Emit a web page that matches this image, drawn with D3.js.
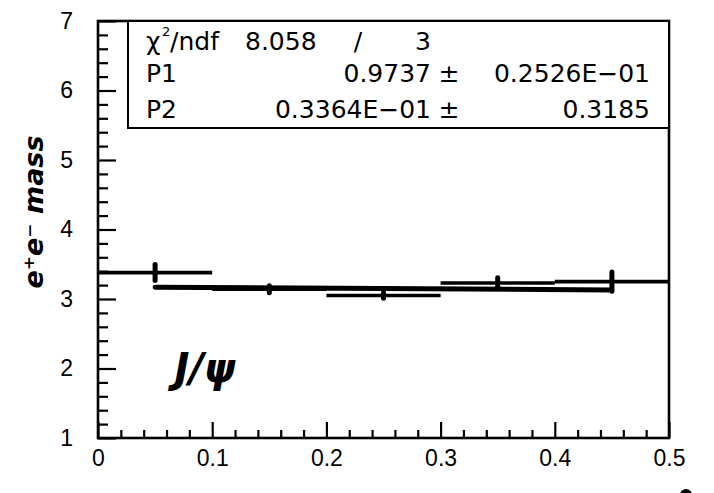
<!DOCTYPE html>
<html>
<head>
<meta charset="utf-8">
<script src="https://cdn.jsdelivr.net/npm/d3@7"></script>
<style>
  html, body { margin: 0; padding: 0; background: #fff; }
  svg { display: block; }
</style>
</head>
<body>
<svg id="chart" width="714" height="493"></svg>
<script>
// Measured e+e- invariant mass per bin, with a straight-line fit
const binCenters  = [0.05, 0.15, 0.25, 0.35, 0.45];
const binHalf     = [0.05, 0.05, 0.05, 0.05, 0.05];
const massValues  = [3.38, 3.14, 3.05, 3.23, 3.25];
const massErrors  = [0.115, 0.05, 0.04, 0.075, 0.14];

// Fit line drawn over the fit range
const fitX = [0.05, 0.45];
const fitY = [3.17, 3.13];

// Axis ticks
const xMajorTicks = [0, 0.1, 0.2, 0.3, 0.4, 0.5];
const xTickLabels = ["0", "0.1", "0.2", "0.3", "0.4", "0.5"];
const yMajorTicks = [1, 2, 3, 4, 5, 6, 7];
const yTickLabels = ["1", "2", "3", "4", "5", "6", "7"];

// Fit statistics
const chi2Value = "8.058";
const ndfValue = "3";
const parNames = ["P1", "P2"];
const parValues = ["0.9737", "0.3364E\u221201"];
const parErrors = ["0.2526E\u221201", "0.3185"];

const svg = d3.select("#chart");
const L = 98, R = 669, T = 21, B = 438;

const x = d3.scaleLinear().domain([0, 0.5]).range([L, R]);
const y = d3.scaleLinear().domain([1, 7]).range([B, T]);

const ink = "#000";

// Minor ticks
const xMinor = d3.range(0, 0.5001, 0.02).filter(v => Math.abs(v * 10 - Math.round(v * 10)) > 1e-6);
const yMinor = d3.range(1, 7.0001, 0.2).filter(v => Math.abs(v - Math.round(v)) > 1e-6);

const xMinorAxis = d3.axisBottom(x).tickValues(xMinor).tickSizeInner(-8).tickSizeOuter(0).tickFormat("");
const yMinorAxis = d3.axisLeft(y).tickValues(yMinor).tickSizeInner(-10).tickSizeOuter(0).tickFormat("");

const xAxis = d3.axisBottom(x).tickValues(xMajorTicks).tickSizeInner(-16).tickSizeOuter(0)
  .tickPadding(12).tickFormat((d, i) => xTickLabels[i]);
const yAxis = d3.axisLeft(y).tickValues(yMajorTicks).tickSizeInner(-18).tickSizeOuter(0)
  .tickPadding(25).tickFormat((d, i) => yTickLabels[i]);

function styleAxis(g) {
  g.select(".domain").remove();
  g.selectAll("line").attr("stroke", ink).attr("stroke-width", 2.2);
  g.selectAll("text")
    .attr("fill", ink)
    .style("font-family", "'Liberation Sans', Arial, sans-serif")
    .style("font-size", "23px");
}

svg.append("g").attr("transform", `translate(0,${B})`).call(xMinorAxis).call(styleAxis);
svg.append("g").attr("transform", `translate(${L},0)`).call(yMinorAxis).call(styleAxis);
svg.append("g").attr("transform", `translate(0,${B})`).call(xAxis).call(styleAxis);
svg.append("g").attr("transform", `translate(${L},0)`).call(yAxis).call(styleAxis);

// Frame
svg.append("rect")
  .attr("x", L).attr("y", T).attr("width", R - L).attr("height", B - T)
  .attr("fill", "none").attr("stroke", ink).attr("stroke-width", 2.6);

// Fit line
svg.append("path")
  .datum(fitX.map((v, i) => [v, fitY[i]]))
  .attr("d", d3.line().x(d => x(d[0])).y(d => y(d[1])))
  .attr("fill", "none").attr("stroke", ink).attr("stroke-width", 5)
  .attr("stroke-linecap", "round");

// Data points: horizontal bin bars and vertical error bars
const pts = binCenters.map((c, i) => ({ c, h: binHalf[i], v: massValues[i], e: massErrors[i] }));
const gp = svg.append("g");
gp.selectAll("line.xe").data(pts).join("line")
  .attr("class", "xe")
  .attr("x1", d => x(d.c - d.h)).attr("x2", d => x(d.c + d.h))
  .attr("y1", d => y(d.v)).attr("y2", d => y(d.v))
  .attr("stroke", ink).attr("stroke-width", 3.6);
gp.selectAll("line.ye").data(pts).join("line")
  .attr("class", "ye")
  .attr("x1", d => x(d.c)).attr("x2", d => x(d.c))
  .attr("y1", d => y(d.v - d.e)).attr("y2", d => y(d.v + d.e))
  .attr("stroke", ink).attr("stroke-width", 5)
  .attr("stroke-linecap", "round");

// Statistics box
const boxTop = T, boxBottom = 128, boxLeft = 128;
svg.append("rect")
  .attr("x", boxLeft).attr("y", boxTop).attr("width", R - boxLeft).attr("height", boxBottom - boxTop)
  .attr("fill", "#fff").attr("stroke", ink).attr("stroke-width", 2);

const statFont = "'DejaVu Sans', Verdana, sans-serif";
function stat(txt, xp, yp, anchor, size) {
  return svg.append("text")
    .attr("x", xp).attr("y", yp)
    .attr("text-anchor", anchor || "start")
    .attr("fill", ink)
    .style("font-family", statFont)
    .style("font-size", (size || 25) + "px")
    .text(txt);
}

// chi-square / ndf line, the exponent set as its own small raised text
stat("\u03C7", 146, 50);
stat("2", 162, 36, "start", 13);
stat("/ndf", 170, 50);
stat(chi2Value, 245, 50);
stat("/", 358, 50, "middle");
stat(ndfValue, 431, 50, "end");

const rowY = [82, 118];
parNames.forEach((n, i) => {
  stat(n, 146, rowY[i]);
  stat(parValues[i], 431, rowY[i], "end");
  stat("\u00B1", 449, rowY[i], "middle");
  stat(parErrors[i], 650, rowY[i], "end");
});

// Handwritten annotations
svg.append("text")
  .attr("transform", "translate(43,212) rotate(-90)")
  .attr("text-anchor", "middle")
  .attr("fill", ink)
  .style("font-family", "'DejaVu Sans', sans-serif")
  .style("font-size", "27px")
  .style("font-weight", "bold")
  .style("font-style", "italic")
  .text("e\u207Ae\u207B mass");

svg.append("text")
  .attr("x", 205).attr("y", 382)
  .attr("text-anchor", "middle")
  .attr("fill", ink)
  .style("font-family", "'DejaVu Sans', sans-serif")
  .style("font-size", "40px")
  .style("font-weight", "bold")
  .style("font-style", "italic")
  .text("J/\u03C8");

svg.append("circle").attr("cx", 686).attr("cy", 495).attr("r", 6).attr("fill", ink);
</script>
</body>
</html>
